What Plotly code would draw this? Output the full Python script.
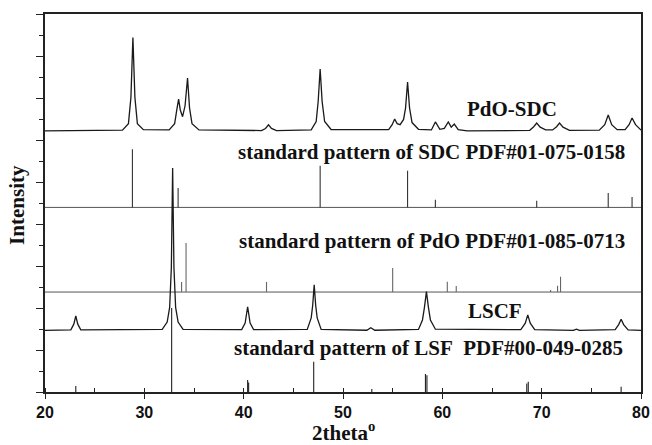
import plotly.graph_objects as go

# ---- measured patterns (2theta, height above own baseline, in tick units) ----
pdo_sdc_x = [20, 27.8, 28.4, 28.65, 28.85, 29.05, 29.3, 29.9, 32.5, 33.05, 33.3, 33.45, 33.62, 33.85,
             34.1, 34.35, 34.55, 34.8, 35.5, 41.8, 42.2, 42.5, 42.8, 43.3, 46.8, 47.3, 47.5, 47.7,
             47.9, 48.15, 48.8, 54.6, 54.95, 55.2, 55.45, 55.75, 56.1, 56.3, 56.5, 56.7, 56.95,
             57.6, 58.9, 59.3, 59.75, 60.2, 60.6, 60.9, 61.2, 61.6, 62.5, 68.8, 69.2, 69.5, 69.85,
             70.4, 71.1, 71.5, 71.8, 72.15, 72.8, 75.8, 76.35, 76.7, 77.05, 77.6, 78.4, 78.8, 79.1,
             79.45, 80.0]
pdo_sdc_y = [0.0, 0.04, 0.35, 1.6, 4.45, 1.6, 0.35, 0.06, 0.05, 0.35, 1.1, 1.52, 1.0, 0.68,
             1.2, 2.52, 1.1, 0.35, 0.05, 0.02, 0.12, 0.29, 0.12, 0.02, 0.05, 0.45, 1.4, 2.95,
             1.4, 0.45, 0.07, 0.06, 0.3, 0.57, 0.35, 0.3, 0.55, 1.1, 2.33, 1.1, 0.4,
             0.08, 0.05, 0.43, 0.08, 0.12, 0.43, 0.18, 0.33, 0.06, 0.0, 0.03, 0.2, 0.38, 0.18,
             0.05, 0.05, 0.2, 0.38, 0.18, 0.03, 0.04, 0.3, 0.76, 0.3, 0.06, 0.06, 0.3, 0.62,
             0.3, 0.04]

lscf_x = [20, 22.6, 22.9, 23.1, 23.3, 23.6, 31.8, 32.3, 32.55, 32.72, 32.85, 32.98, 33.15, 33.4,
          33.9, 39.8, 40.15, 40.4, 40.65, 41.0, 46.4, 46.8, 46.95, 47.1, 47.25, 47.4, 47.8, 52.4,
          52.8, 53.2, 57.6, 58.0, 58.2, 58.4, 58.6, 58.8, 59.3, 67.9, 68.35, 68.6, 68.85, 69.3,
          73.2, 73.5, 73.8, 77.4, 77.75, 78.0, 78.25, 78.7, 80.0]
lscf_y = [0.0, 0.03, 0.3, 0.69, 0.3, 0.03, 0.05, 0.4, 1.1, 3.0, 7.74, 3.0, 1.1, 0.4,
          0.05, 0.04, 0.35, 1.13, 0.35, 0.04, 0.05, 0.6, 1.2, 2.17, 1.2, 0.6, 0.05, 0.01,
          0.13, 0.01, 0.05, 0.5, 1.1, 1.85, 1.1, 0.5, 0.06, 0.04, 0.35, 0.74, 0.35, 0.04,
          0.0, 0.06, 0.0, 0.04, 0.28, 0.53, 0.28, 0.03, 0.0]

# ---- standard reference patterns (line positions and heights) ----
sdc_std_x = [28.8, 33.4, 47.7, 56.5, 59.3, 69.5, 76.7, 79.1]
sdc_std_h = [2.77, 0.93, 1.98, 1.75, 0.36, 0.32, 0.69, 0.5]

pdo_std_x = [33.75, 34.2, 42.3, 55.0, 60.5, 61.4, 70.9, 71.6, 71.9]
pdo_std_h = [0.48, 2.33, 0.48, 1.14, 0.49, 0.29, 0.1, 0.3, 0.73]

lsf_std_x = [23.1, 32.75, 40.4, 40.5, 47.05, 52.9, 58.3, 58.45, 68.5, 68.65, 78.0]
lsf_std_h = [0.29, 4.0, 0.57, 0.45, 1.44, 0.14, 0.86, 0.8, 0.4, 0.49, 0.25]

# vertical offsets of each stacked pattern
offsets = {"lsf": 0.0, "lscf": 2.93, "pdo": 4.76, "sdc": 8.79, "pdo_sdc": 12.43}

labels = ["PdO-SDC", "standard pattern of SDC PDF#01-075-0158",
          "standard pattern of PdO PDF#01-085-0713", "LSCF",
          "standard pattern of LSF&nbsp;&nbsp;PDF#00-049-0285"]

fig = go.Figure()


def sticks(xs, hs, base):
    X, Y = [], []
    for x, h in zip(xs, hs):
        X += [x, x, None]
        Y += [base, base + h, None]
    return X, Y


# baselines of the standard patterns
for key in ["sdc", "pdo"]:
    fig.add_trace(go.Scatter(x=[20, 80], y=[offsets[key]] * 2, mode="lines",
                             line=dict(color="#555", width=1), hoverinfo="skip"))

for xs, hs, key, col in [(sdc_std_x, sdc_std_h, "sdc", "#333"),
                         (pdo_std_x, pdo_std_h, "pdo", "#666"),
                         (lsf_std_x, lsf_std_h, "lsf", "#222")]:
    X, Y = sticks(xs, hs, offsets[key])
    fig.add_trace(go.Scatter(x=X, y=Y, mode="lines", line=dict(color=col, width=1.1),
                             hoverinfo="skip"))

fig.add_trace(go.Scatter(x=lscf_x, y=[v + offsets["lscf"] for v in lscf_y], mode="lines",
                         line=dict(color="#1a1a1a", width=1.3)))
fig.add_trace(go.Scatter(x=pdo_sdc_x, y=[v + offsets["pdo_sdc"] for v in pdo_sdc_y], mode="lines",
                         line=dict(color="#1a1a1a", width=1.3)))

serif = "Liberation Serif"
lab_font = dict(family=serif, size=21, color="#111", weight="bold")
ann = [
    dict(x=67.0, y=13.48, text=labels[0], xanchor="center"),
    dict(x=78.6, y=11.43, text=labels[1], xanchor="right"),
    dict(x=78.6, y=7.19, text=labels[2], xanchor="right"),
    dict(x=65.3, y=3.86, text=labels[3], xanchor="center"),
    dict(x=78.4, y=2.1, text=labels[4], xanchor="right"),
]
for a in ann:
    fig.add_annotation(xref="x", yref="y", yanchor="middle", showarrow=False,
                       font=lab_font, **a)

fig.add_annotation(xref="paper", yref="paper", x=-0.047, y=0.495, text="Intensity",
                   textangle=-90, showarrow=False, xanchor="center", yanchor="middle",
                   font=dict(family=serif, size=21, color="#111", weight="bold"))
fig.add_annotation(xref="paper", yref="paper", x=0.5, y=-0.104, text="2theta<sup>o</sup>",
                   showarrow=False, xanchor="center", yanchor="middle",
                   font=dict(family=serif, size=21, color="#111", weight="bold"))

fig.update_layout(
    width=652, height=445,
    margin=dict(l=45, r=11, t=14, b=53, autoexpand=False),
    paper_bgcolor="white", plot_bgcolor="white",
    showlegend=False,
    xaxis=dict(range=[20, 80], dtick=10, tick0=20, ticks="outside", ticklen=5,
               tickcolor="#222", showline=True, linecolor="#222", linewidth=1.5,
               mirror=True, showgrid=False, zeroline=False, automargin=False,
               tickfont=dict(family="Liberation Sans", size=16, color="#111", weight="bold"),
               minor=dict(dtick=5, ticks="inside", ticklen=4, tickcolor="#222")),
    yaxis=dict(range=[0, 18], dtick=2, tick0=0, ticks="outside", ticklen=7,
               tickcolor="#222", showline=True, linecolor="#222", linewidth=1.5,
               mirror=True, showgrid=False, zeroline=False, showticklabels=False,
               automargin=False,
               minor=dict(dtick=1, ticks="outside", ticklen=4, tickcolor="#222")),
)

fig.write_html("out.html", config={"displayModeBar": False},
               post_script="document.body.style.margin='0';document.body.style.overflow='hidden';")
